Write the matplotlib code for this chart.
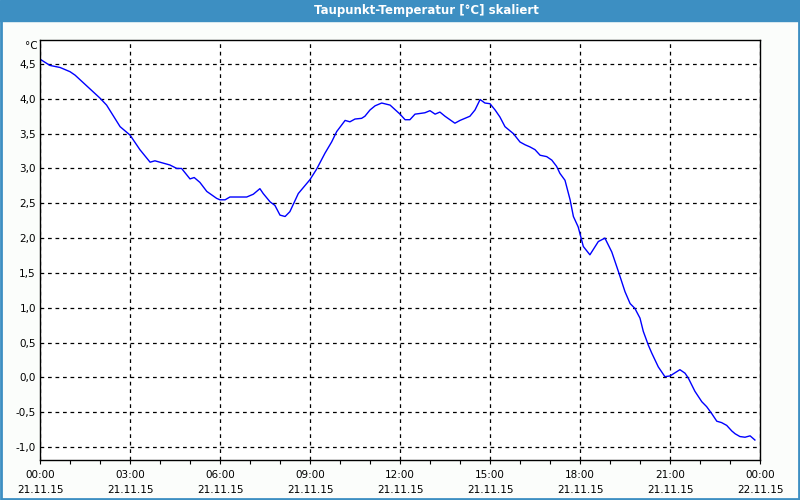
"""Taupunkt-Temperatur (dew point) over one day, 21.11.15 00:00 to 22.11.15 00:00."""
import numpy as np
import matplotlib
matplotlib.use("Agg")
import matplotlib.pyplot as plt
from matplotlib.patches import Rectangle

TITLE = "Taupunkt-Temperatur [°C] skaliert"
UNIT = "°C"

# hours since 21.11.15 00:00
hours = [0.0, 0.33, 0.67, 1.0, 1.17, 2.0, 2.22, 2.67, 3.0, 3.33, 3.67, 3.83,
         4.33, 4.56, 4.72, 5.0, 5.14, 5.33, 5.56, 5.89, 6.0, 6.17, 6.33, 6.89,
         7.11, 7.33, 7.44, 7.67, 7.83, 8.0, 8.17, 8.33, 8.61, 9.0, 9.22, 9.5,
         9.72, 9.89, 10.17, 10.33, 10.5, 10.72, 10.83, 11.0, 11.17, 11.39,
         11.67, 12.0, 12.17, 12.33, 12.5, 12.67, 12.83, 13.0, 13.17, 13.33,
         13.5, 13.83, 14.0, 14.33, 14.5, 14.67, 14.83, 15.0, 15.17, 15.33,
         15.5, 15.78, 16.0, 16.17, 16.33, 16.5, 16.67, 16.89, 17.06, 17.22,
         17.33, 17.5, 17.67, 17.78, 17.94, 18.11, 18.33, 18.61, 18.83, 19.06,
         19.28, 19.5, 19.67, 19.83, 20.0, 20.11, 20.28, 20.39, 20.61, 20.83,
         21.0, 21.33, 21.5, 21.61, 21.83, 22.06, 22.22, 22.39, 22.56, 22.72,
         22.89, 23.06, 23.17, 23.33, 23.5, 23.67, 23.83]
temps = [4.57, 4.48, 4.45, 4.39, 4.34, 4.01, 3.91, 3.60, 3.48, 3.27, 3.09, 3.11,
         3.05, 3.00, 3.00, 2.85, 2.87, 2.80, 2.67, 2.57, 2.55, 2.55, 2.59, 2.59,
         2.63, 2.71, 2.64, 2.52, 2.47, 2.33, 2.31, 2.38, 2.64, 2.84, 2.99, 3.22,
         3.38, 3.53, 3.69, 3.67, 3.71, 3.72, 3.75, 3.84, 3.90, 3.94,
         3.91, 3.78, 3.70, 3.70, 3.78, 3.79, 3.80, 3.83, 3.78, 3.81,
         3.75, 3.65, 3.69, 3.75, 3.84, 3.99, 3.94, 3.93, 3.84, 3.74,
         3.60, 3.50, 3.38, 3.34, 3.31, 3.27, 3.19, 3.17, 3.12, 3.03,
         2.93, 2.83, 2.55, 2.31, 2.16, 1.88, 1.76, 1.95, 2.00, 1.80,
         1.52, 1.23, 1.06, 0.99, 0.85, 0.66, 0.46, 0.35, 0.15, 0.01,
         0.02, 0.11, 0.06, -0.01, -0.20, -0.35, -0.42, -0.52, -0.63, -0.65,
         -0.69, -0.77, -0.81, -0.85, -0.86, -0.84, -0.90]

x_ticks = [0, 3, 6, 9, 12, 15, 18, 21, 24]
x_labels = ["00:00\n21.11.15", "03:00\n21.11.15", "06:00\n21.11.15",
            "09:00\n21.11.15", "12:00\n21.11.15", "15:00\n21.11.15",
            "18:00\n21.11.15", "21:00\n21.11.15", "00:00\n22.11.15"]
y_ticks = [-1.0, -0.5, 0.0, 0.5, 1.0, 1.5, 2.0, 2.5, 3.0, 3.5, 4.0, 4.5]
y_labels = ["-1,0", "-0,5", "0,0", "0,5", "1,0", "1,5", "2,0", "2,5",
            "3,0", "3,5", "4,0", "4,5"]

FRAME = "#3d8fc2"
BG = "#fbfdfb"

plt.rcParams["font.family"] = ["DejaVu Sans"]

fig = plt.figure(figsize=(8, 5), dpi=100, facecolor=BG)
ax = fig.add_axes([0.05, 0.08, 0.90, 0.84], facecolor="white")

ax.plot(hours, temps, color="#0000ff", lw=1.0)

ax.set_xlim(0, 24)
ax.set_ylim(-1.187, 4.845)
ax.set_xticks(x_ticks)
ax.set_xticklabels(x_labels, fontsize=7.5, linespacing=1.7)
ax.set_xticks(np.arange(0, 25, 1), minor=True)
ax.set_yticks(y_ticks)
ax.set_yticklabels(y_labels, fontsize=7.5)
ax.tick_params(axis="x", which="both", direction="out", length=3,
               width=0.8, pad=4)
ax.tick_params(axis="y", length=0, pad=3)
ax.grid(True, which="major", color="black", lw=0.9, ls=(0, (3, 3)))
for s in ax.spines.values():
    s.set_linewidth(1.0)
    s.set_color("black")

ax.text(-0.003, 1 - 6 / 420, UNIT, transform=ax.transAxes, ha="right",
        va="center", fontsize=7.5)

# title bar and window frame
fig.patches.append(Rectangle((0, 1 - 21 / 500), 1, 21 / 500,
                             transform=fig.transFigure, color=FRAME,
                             zorder=0))
fig.patches.append(Rectangle((0.001, 0.002), 0.998, 0.99,
                             transform=fig.transFigure, fill=False,
                             edgecolor=FRAME, lw=2, zorder=0))
fig.text(0.533, 1 - 10.5 / 500, TITLE, color="white", fontsize=8.5,
         fontweight="bold", ha="center", va="center")

fig.savefig("out.png", dpi=100, facecolor=BG)
